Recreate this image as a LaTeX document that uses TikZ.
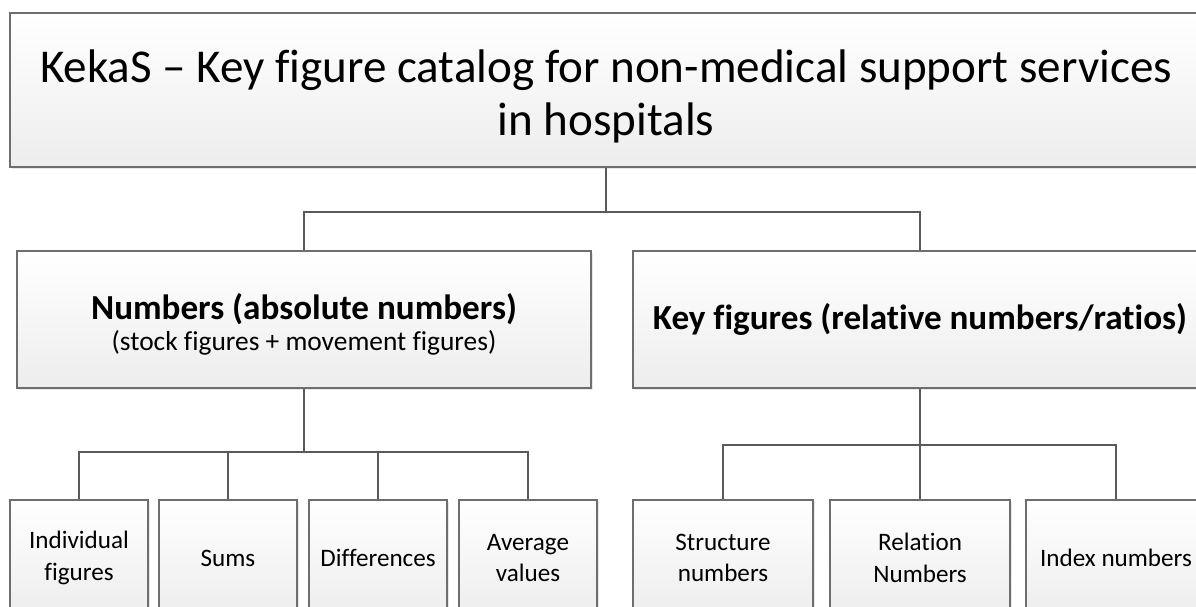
\documentclass[tikz,border=0pt]{standalone}
\usepackage{fontspec}
\setmainfont{Carlito}[Ligatures={NoCommon}]
\usetikzlibrary{shadows}
\definecolor{boxline}{HTML}{6E6E6E}
\definecolor{boxfill}{HTML}{EDEDED}
\definecolor{connline}{HTML}{5A5A5A}
\newcommand{\px}{0.02cm}
\tikzset{
  box/.style={draw=boxline, line width=0.9pt, top color=white, bottom color=boxfill,
    drop shadow={opacity=0.18, shadow xshift=1.2pt, shadow yshift=-1.2pt},
    align=center, inner sep=0pt},
  leaf/.style={box, minimum height=116*\px, font={\fontsize{14.3}{18}\selectfont}},
  conn/.style={draw=connline, line width=1.1pt},
}

\begin{document}
\begin{tikzpicture}[x=\px, y=-\px]
  \useasboundingbox (0,0) rectangle (1196,606);
  \clip (0,0) rectangle (1196,606);

  \node[box, minimum width=1192*\px, minimum height=154*\px, font={\fontsize{26.8}{30.6}\selectfont}]
    (cat) at (606,90) {\rule{0pt}{26pt}KekaS -- Key figure catalog for non-medical support services\\in hospitals};

  \node[box, minimum width=574*\px, minimum height=137*\px] (num) at (304,319.5)
    {\rule{0pt}{20pt}{\fontsize{20}{24}\selectfont\bfseries Numbers (absolute numbers)}\\[2pt]
     {\fontsize{15.6}{18}\selectfont (stock figures + movement figures)}};
  \node[box, minimum width=574*\px, minimum height=137*\px, font={\fontsize{20}{24}\selectfont\bfseries}]
    (key) at (920,319.5) {Key figures (relative numbers/ratios)};

  \coordinate (top bus) at (606,212);
  \draw[conn] (cat.south) -- (top bus);
  \draw[conn] (top bus) -| (num.north);
  \draw[conn] (top bus) -| (key.north);

  % absolute numbers
  \coordinate (num bus) at (304,452);
  \draw[conn] (num.south) -- (num bus);
  \foreach \x/\name/\txt in {79/ind/{Individual\\figures}, 228/sum/Sums,
      378/dif/Differences, 528/avg/{Average\\values}} {
    \node[leaf, minimum width=138*\px] (\name) at (\x,558) {\txt};
    \draw[conn] (num bus) -| (\name.north);
  }

  % relative numbers
  \coordinate (key bus) at (920,445);
  \draw[conn] (key.south) -- (key bus);
  \foreach \x/\name/\txt in {723/str/{Structure\\numbers}, 920/rel/{Relation\\Numbers},
      1116/idx/{Index numbers}} {
    \node[leaf, minimum width=180*\px] (\name) at (\x,558) {\txt};
    \draw[conn] (key bus) -| (\name.north);
  }
\end{tikzpicture}
\end{document}
